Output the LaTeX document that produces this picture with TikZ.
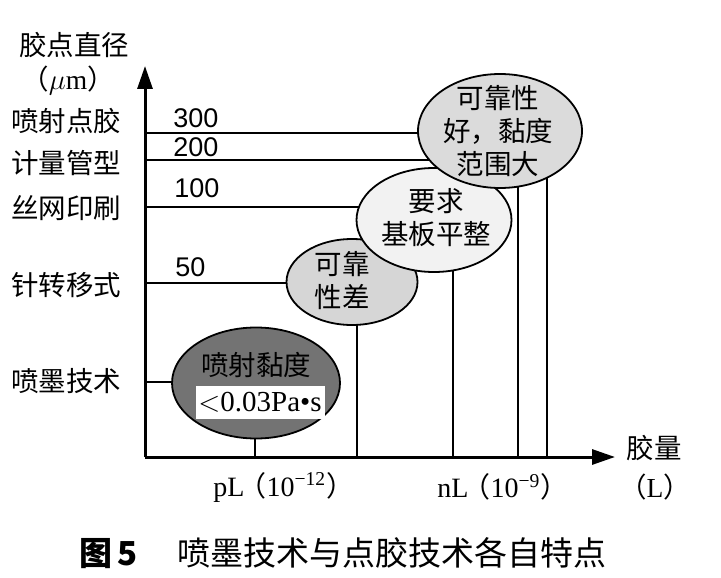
\documentclass[tikz,border=0pt]{standalone}
\usepackage{fontspec}
\usepackage{xcolor}
\setmainfont{Liberation Serif}
\newfontfamily\cjk{Noto Sans CJK SC}
\newfontfamily\numfont{Liberation Sans}
\usetikzlibrary{positioning,arrows.meta,shapes.geometric,backgrounds}

\definecolor{bubbleA}{gray}{0.86}
\definecolor{bubbleB}{gray}{0.95}
\definecolor{bubbleC}{gray}{0.84}
\definecolor{bubbleD}{gray}{0.45}

\begin{document}
\begin{tikzpicture}[x=0.5pt,y=-0.5pt,
	axis/.style={line width=1.5pt,-{Triangle[length=11.5pt,width=7.5pt]}},
	guide/.style={line width=1.3pt},
	bubble/.style={ellipse,draw,line width=0.9pt,inner sep=0pt},
	cjklab/.style={font=\cjk\fontsize{13.75}{16.5}\selectfont,align=center,inner sep=0pt},
	numlab/.style={font=\numfont\fontsize{13.5}{15}\selectfont,anchor=west,inner sep=0pt},
	serlab/.style={font=\fontsize{14}{16}\selectfont,inner sep=0pt}]
	\useasboundingbox (0,0) rectangle (721,577);
	
	\coordinate (o) at (145,457);
	\coordinate (ytip) at (145,66);
	\coordinate (xtip) at (615,457);
	\draw[axis] (o) -- (ytip);
	\draw[axis] (o) -- (xtip);
	
	\coordinate (y300) at (145,133);
	\coordinate (y200) at (145,160);
	\coordinate (y100) at (145,207);
	\coordinate (y50) at (145,283);
	\coordinate (yink) at (145,382);
	\coordinate (xink) at (255,457);
	\coordinate (xpin) at (357,457);
	\coordinate (xscr) at (453,457);
	\coordinate (xjetA) at (518,457);
	\coordinate (xjetB) at (547,457);
	
	\node[cjklab] (ttlA) at (74,45) {胶点直径};
	\node[cjklab] (ttlB) at (68,81) {（$\mu$\textrm{m}）};
	\node[cjklab] (jet) at (66,121) {喷射点胶};
	\node[cjklab] (meter) at (66,163) {计量管型};
	\node[cjklab] (screen) at (66,208) {丝网印刷};
	\node[cjklab] (pin) at (66,285) {针转移式};
	\node[cjklab] (ink) at (66,381) {喷墨技术};
	
	\node[numlab] (n300) at (173,118) {300};
	\node[numlab] (n200) at (173,147) {200};
	\node[numlab] (n100) at (174,188) {100};
	\node[numlab] (n50) at (175,267) {50};
	
	\node[bubble,fill=bubbleC,minimum width=65.5pt,minimum height=43pt] (e3) at (352,282) {};
	\node[cjklab] (t3) at (342,281) {可靠\\性差};
	\node[bubble,fill=bubbleB,minimum width=77.5pt,minimum height=52pt] (e2) at (434,220) {};
	\node[cjklab] (t2) at (436,218) {要求\\基板平整};
	\node[bubble,fill=bubbleA,minimum width=82pt,minimum height=57pt] (e1) at (500,131) {};
	\node[cjklab] (t1) at (498,131) {可靠性\\好，黏度\\范围大};
	\node[bubble,fill=bubbleD,minimum width=84pt,minimum height=55.5pt] (e4) at (256,383) {};
	\node[cjklab] (t4) at (256,365) {喷射黏度};
	\node[fill=white,inner sep=0pt,minimum width=64.5pt,minimum height=16.5pt,font=\fontsize{14.5}{16}\selectfont] (visc) at (260,402) {$<$0.03Pa•s};
	
	\begin{scope}[on background layer]
		\draw[guide] (y300) -- (y300 -| e1);
		\draw[guide] (y200) -- (y200 -| e1);
		\draw[guide] (y100) -- (y100 -| e2);
		\draw[guide] (y50) -- (y50 -| e3);
		\draw[guide] (yink) -- (yink -| e4);
		\draw[guide] (xink) -- (xink |- e4);
		\draw[guide] (xpin) -- (xpin |- e3);
		\draw[guide] (xscr) -- (xscr |- e2);
		\draw[guide] (xjetA) -- (xjetA |- e1);
		\draw[guide] (xjetB) -- (xjetB |- e1);
	\end{scope}
	
	\node[serlab,anchor=west] (pico) at (213,487) {pL\kern-3pt{\cjk （}10\textsuperscript{−12}{\cjk ）}};
	\node[serlab,anchor=west] (nano) at (437,487) {nL\kern-3pt{\cjk （}10\textsuperscript{−9}{\cjk ）}};
	\node[cjklab] (volA) at (654,448) {胶量};
	\node[cjklab] (volB) at (655,487) {（\textrm{L}）};
	
	\node[font=\cjk\fontsize{16.5}{18}\selectfont,inner sep=0pt] (caption) at (343,553) {\textbf{图\,5}\hspace{1.2em}喷墨技术与点胶技术各自特点};
\end{tikzpicture}
\end{document}
